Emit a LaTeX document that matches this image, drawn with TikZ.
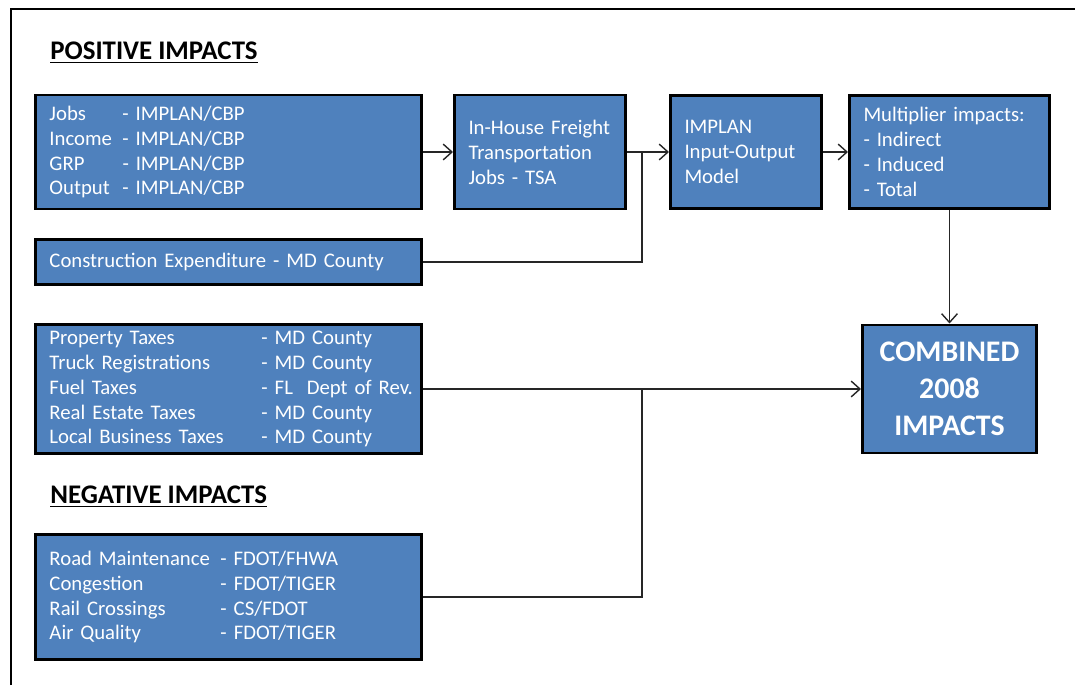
\documentclass[tikz,border=0pt]{standalone}
\usepackage{fontspec}
\setmainfont{Carlito}
\usetikzlibrary{arrows.meta,positioning}
\definecolor{boxblue}{RGB}{79,129,189}
\newcommand{\col}[2]{\makebox[#1][l]{#2}}

\begin{document}
\begin{tikzpicture}[
  >={Straight Barb[length=5pt,width=9pt]},
  box/.style={rectangle, draw=black, line width=1.7pt, fill=boxblue, text=white, inner xsep=0.28cm, align=left,
    font=\fontsize{11.8pt}{14.2pt}\selectfont},
  conn/.style={draw=black!85, line width=0.8pt},
  heading/.style={anchor=west, inner sep=0pt, font=\fontsize{15.3pt}{18pt}\selectfont\bfseries}
]
\useasboundingbox (0,0) rectangle (21.5,13.7);

% frame
\draw[line width=1.2pt] (0.22,0) -- (0.22,13.52) -- (21.5,13.52);

% headings
\node[heading] (pos) at (1.0,12.64) {\underline{POSITIVE IMPACTS}};
\node[heading] (negh) at (1.0,3.76) {\underline{NEGATIVE IMPACTS}};

% boxes
\node[box, text width=7.16cm, minimum height=2.28cm] (jobs) at (4.57,10.66) {%
  \col{1.46cm}{Jobs}- IMPLAN/CBP\\
  \col{1.46cm}{Income}- IMPLAN/CBP\\
  \col{1.46cm}{GRP}- IMPLAN/CBP\\
  \col{1.46cm}{Output}- IMPLAN/CBP};
\node[box, text width=7.16cm, minimum height=0.9cm] (constr) at (4.57,8.46) {Construction Expenditure - MD County};
\node[box, text width=2.86cm, minimum height=2.28cm] (house) at (10.8,10.66) {In-House Freight\\ Transportation\\ Jobs - TSA};
\node[box, text width=2.46cm, minimum height=2.26cm] (implan) at (14.92,10.66) {IMPLAN\\ Input-Output\\ Model};
\node[box, text width=3.44cm, minimum height=2.26cm] (multi) at (18.99,10.66) {Multiplier impacts:\\ - Indirect\\ - Induced\\ - Total};
\node[box, text width=7.16cm, minimum height=2.56cm] (taxes) at (4.57,5.92) {%
  \col{4.24cm}{Property Taxes}- MD County\\
  \col{4.24cm}{Truck Registrations}- MD County\\
  \mbox{\col{4.24cm}{Fuel Taxes}- FL\ \ Dept of Rev.}\\
  \col{4.24cm}{Real Estate Taxes}- MD County\\
  \col{4.24cm}{Local Business Taxes}- MD County};
\node[box, text width=2.92cm, minimum height=2.56cm, align=center,
  font=\fontsize{17pt}{21pt}\selectfont\bfseries] (comb) at (18.99,5.92) {COMBINED\\ 2008\\ IMPACTS};
\node[box, text width=7.16cm, minimum height=2.5cm] (neg) at (4.57,1.76) {%
  \col{3.42cm}{Road Maintenance}- FDOT/FHWA\\
  \col{3.42cm}{Congestion}- FDOT/TIGER\\
  \col{3.42cm}{Rail Crossings}- CS/FDOT\\
  \col{3.42cm}{Air Quality}- FDOT/TIGER};

% junctions
\coordinate (j1) at (12.84,10.66);
\coordinate (j2) at (12.84,5.92);

% connectors
\draw[conn,->] (jobs) -- (house);
\draw[conn,->] (house) -- (implan);
\draw[conn,->] (implan) -- (multi);
\draw[conn,->] (multi) -- (comb);
\draw[conn] (constr.east) -| (j1);
\draw[conn,->] (taxes) -- (comb);
\draw[conn] (neg.east) -| (j2);

\end{tikzpicture}
\end{document}
